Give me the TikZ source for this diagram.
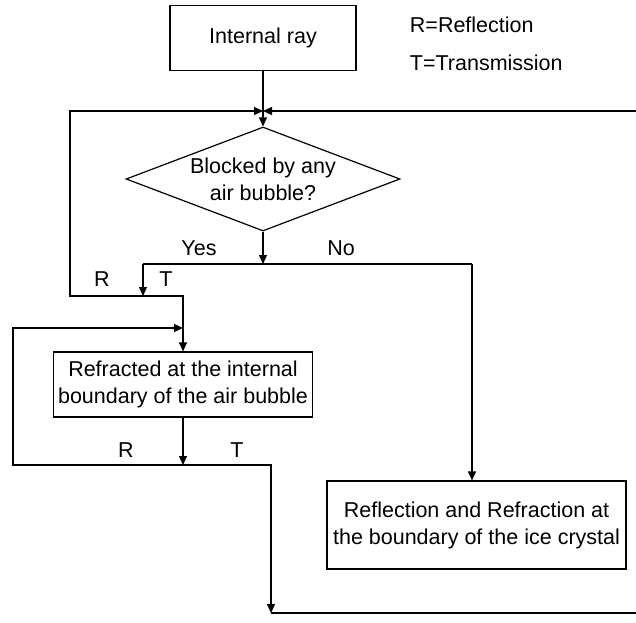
\documentclass[tikz,border=0pt]{standalone}
\usepackage{fontspec}
\setmainfont{Liberation Sans}
\usepackage{tikz}
\usetikzlibrary{shapes.geometric,arrows.meta,calc}

\begin{document}
\begin{tikzpicture}[x=1pt,y=-1pt,line width=1.2pt,
  every node/.style={font=\fontsize{21.5}{27}\selectfont},
  procbox/.style={draw,rectangle,align=center,inner sep=0pt},
  decide/.style={draw,diamond,align=center,inner sep=-7pt,aspect=2.63,minimum width=274pt,minimum height=104pt},
  flow/.style={-{Triangle[length=9pt,width=8pt]}}]
\useasboundingbox (0,0) rectangle (636,622);
\node[procbox,minimum width=186pt,minimum height=65pt] (ray) at (263,38) {Internal ray};
\node[anchor=west] (legR) at (406,25) {R=Reflection};
\node[anchor=west] (legT) at (406,63) {T=Transmission};
\node[decide] (blocked) at (263,179) {Blocked by any\\air bubble?};
\node[procbox,minimum width=259pt,minimum height=65pt] (refr) at (183,384.5) {Refracted at the internal\\boundary of the air bubble};
\node[procbox,minimum width=299pt,minimum height=88pt] (crys) at (476.5,525) {Reflection and Refraction at\\the boundary of the ice crystal};

\coordinate (merge) at (263,111);
\coordinate (rightT) at (636,111);
\coordinate (fork) at (263,264);
\coordinate (yes) at (143,264);
\coordinate (no) at (472,264);
\coordinate (split) at (143,296);
\coordinate (backB) at (70,296);
\coordinate (backT) at (70,111);
\coordinate (refl) at (183,465);
\coordinate (loopB) at (13,465);
\coordinate (loopT) at (13,328);
\coordinate (exitT) at (271,465);
\coordinate (exitB) at (271,613);
\coordinate (rightB) at (636,613);

\draw[flow] (ray) -- (blocked);
\draw[flow] (rightT) -- (merge);
\draw[flow] (split) -- (backB) -- (backT) -- (merge);
\draw[flow] (blocked) -- (fork);
\draw (yes) -- (no);
\draw[flow] (yes) -- (split);
\draw[flow] (split) -| (refr.north);
\draw[flow] (no) -- (no |- crys.north);
\draw[flow] (refr) -- (refl);
\draw[flow] (refl) -- (loopB) -- (loopT) -- (loopT -| refr.north);
\draw[flow] (refl) -- (exitT) -- (exitB);
\draw (exitB) -- (rightB);

\node (yesL) at (199,248) {Yes};
\node (noL) at (341,248) {No};
\node (rA) at (102,279) {R};
\node (tA) at (166,279) {T};
\node (rB) at (126,450) {R};
\node (tB) at (237,450) {T};
\end{tikzpicture}
\end{document}
